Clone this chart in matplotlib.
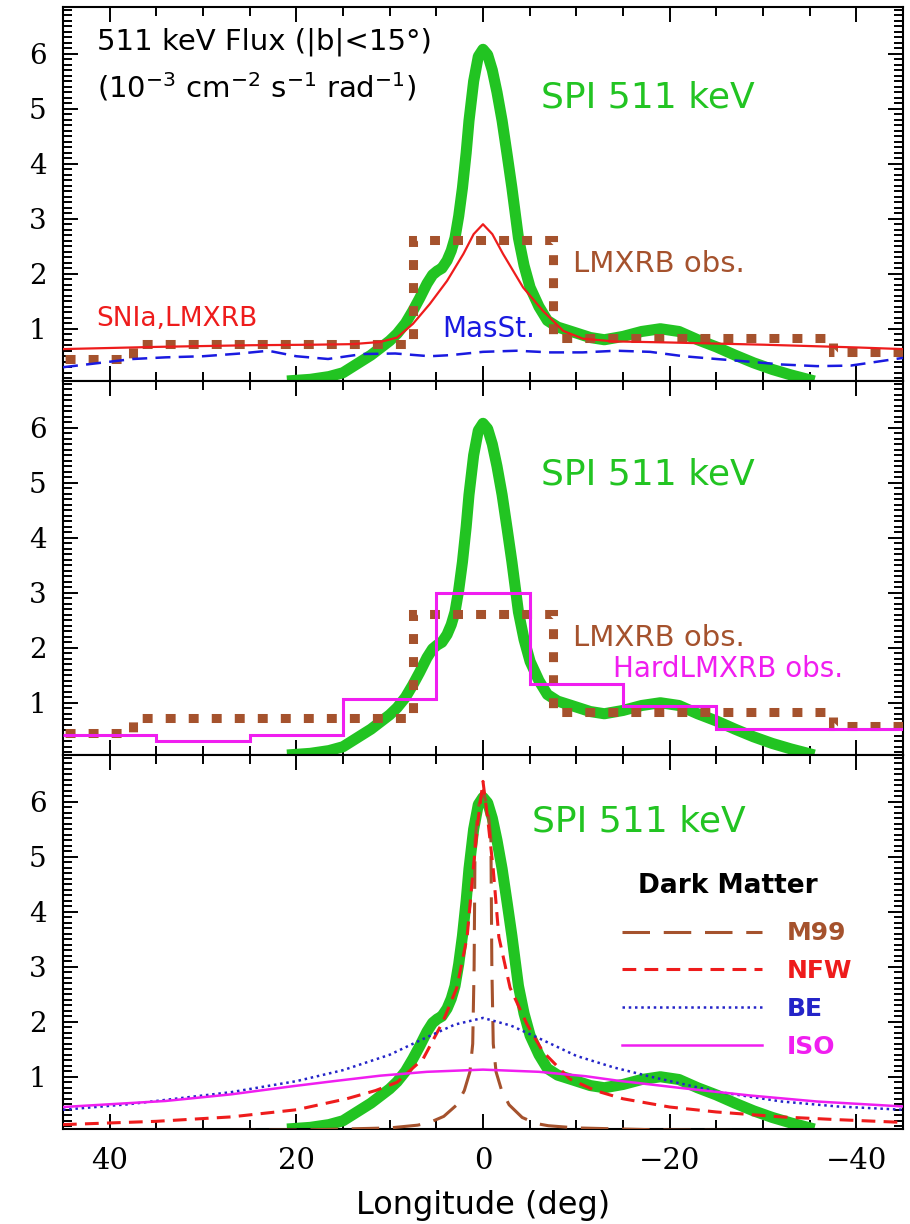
import numpy as np
import matplotlib
matplotlib.use("Agg")
import matplotlib.pyplot as plt
from matplotlib.ticker import MultipleLocator

# --- data ---
# SPI 511 keV profile, longitude (deg) vs flux
spi_lon = [21, 18.5, 16.5, 15, 13.5, 12, 11, 10, 9.2, 8.3, 7.5, 6.8, 6, 5.4, 4.9, 4.4,
           3.85, 3.4, 3.0, 2.6, 2.2, 1.8, 1.5, 1.0, 0.5, 0, -0.5, -1.0, -1.5, -2.05,
           -2.6, -3.1, -3.8, -4.4, -5.05, -6, -6.9, -8, -9.3, -11.5, -13, -15, -17,
           -19, -21, -23, -25, -27, -29, -31, -33, -35.5]
spi_val = [0.05, 0.08, 0.13, 0.2, 0.36, 0.52, 0.65, 0.78, 0.91, 1.1, 1.33, 1.55, 1.82,
           1.98, 2.05, 2.1, 2.24, 2.42, 2.65, 3.05, 3.56, 4.2, 4.78, 5.5, 5.95, 6.08,
           5.98, 5.7, 5.3, 4.78, 4.15, 3.56, 2.65, 2.15, 1.75, 1.4, 1.15, 1.03, 0.96,
           0.84, 0.8, 0.86, 0.95, 1.0, 0.95, 0.8, 0.67, 0.52, 0.38, 0.26, 0.16, 0.05]

# SNIa, LMXRB model (panel 1)
snia_lon = [45, 35, 25, 18, 14, 11, 9.2, 7.5, 5.7, 3.85, 2.1, 1, 0, -1, -2.15, -4.3,
            -6.4, -8.6, -10.7, -14, -20, -30, -40, -45]
snia_val = [0.63, 0.67, 0.7, 0.71, 0.72, 0.76, 0.84, 1.09, 1.45, 1.87, 2.36, 2.72, 2.9,
            2.72, 2.36, 1.75, 1.33, 0.96, 0.82, 0.77, 0.75, 0.71, 0.66, 0.63]

# massive stars (panel 1)
mass_lon = [45, 41, 37.5, 34, 30, 26, 23, 20, 16.6, 12.9, 9.4, 5.7, 3.5, 0, -3.6, -7.2,
            -10.7, -14.3, -17.9, -21.5, -25, -28.6, -32, -35.8, -39.4, -43, -45]
mass_val = [0.3, 0.38, 0.45, 0.48, 0.5, 0.55, 0.6, 0.5, 0.45, 0.54, 0.55, 0.5, 0.52,
            0.58, 0.6, 0.57, 0.57, 0.6, 0.58, 0.5, 0.45, 0.4, 0.35, 0.32, 0.33, 0.42, 0.47]

# LMXRB observed (binned), ascending edges
lmxrb_edges = [-45, -37.5, -7.5, 7.5, 37.5, 45]
lmxrb_val = [0.57, 0.83, 2.62, 0.72, 0.45]

# hard LMXRB observed (binned), ascending edges
hard_edges = [-45, -25, -15, -5, 5, 15, 25, 35, 45]
hard_val = [0.53, 0.94, 1.34, 3.0, 1.07, 0.42, 0.3, 0.42]

# dark matter profiles (panel 3)
m99_lon = [45, 30, 20, 15, 10, 7, 5.7, 4.2, 2.8, 2.0, 1.4, 1.1, 0.95, 0.85, 0.5, 0,
           -0.5, -0.85, -0.95, -1.1, -1.4, -2.0, -2.8, -4.2, -5.7, -7, -10, -15, -20, -30, -45]
m99_val = [0.01, 0.02, 0.03, 0.05, 0.07, 0.12, 0.17, 0.28, 0.49, 0.75, 1.09, 1.6, 3.0,
           5.3, 5.9, 6.2, 5.9, 5.3, 3.0, 1.6, 1.09, 0.75, 0.49, 0.26, 0.15, 0.11, 0.07,
           0.05, 0.03, 0.02, 0.01]

nfw_lon = [45, 35, 27, 20, 14.6, 11.5, 9.2, 6.4, 4.3, 2.8, 1.7, 1.05, 0.5, 0, -0.5,
           -1.1, -1.7, -2.9, -4.7, -6.4, -9.3, -12, -15, -20, -25, -32, -38, -45]
nfw_val = [0.13, 0.19, 0.27, 0.4, 0.6, 0.75, 0.9, 1.33, 2.0, 2.62, 3.54, 4.77, 5.7,
           6.37, 5.7, 4.77, 3.54, 2.62, 1.96, 1.46, 0.96, 0.75, 0.6, 0.45, 0.36, 0.27,
           0.22, 0.17]

be_lon = [45, 38, 33, 27, 20, 15, 10, 6, 3, 0, -3, -6, -10, -14, -18, -25, -32, -38, -45]
be_val = [0.4, 0.5, 0.6, 0.72, 0.92, 1.12, 1.4, 1.72, 1.95, 2.07, 1.93, 1.7, 1.38,
          1.17, 1.0, 0.73, 0.55, 0.46, 0.4]

iso_lon = [45, 38, 34, 27, 20.3, 16, 11, 6, 0, -6, -11, -14.4, -21.5, -28.6, -35.8, -45]
iso_val = [0.45, 0.52, 0.56, 0.68, 0.83, 0.92, 1.02, 1.09, 1.13, 1.09, 1.01, 0.93,
           0.79, 0.66, 0.55, 0.46]

# --- colours ---
GREEN = '#22c422'
BROWN = '#a5522d'
RED = '#ee1c1c'
BLUE = '#1a1ae0'
MAGENTA = '#f01ef0'

plt.rcParams['font.family'] = 'DejaVu Sans'

fig = plt.figure(figsize=(9.1, 12.24), dpi=100)
gs = fig.add_gridspec(3, 1, left=0.0692, right=0.9923, top=0.9943, bottom=0.0776, hspace=0)
axes = [fig.add_subplot(gs[i]) for i in range(3)]

for ax in axes:
    ax.set_xlim(45, -45)
    ax.set_ylim(0.05, 6.85)
    ax.xaxis.set_major_locator(MultipleLocator(20))
    ax.xaxis.set_minor_locator(MultipleLocator(5))
    ax.yaxis.set_major_locator(MultipleLocator(1))
    ax.yaxis.set_minor_locator(MultipleLocator(0.1))
    ax.tick_params(which='both', direction='in', top=True, right=True, width=1.4)
    ax.tick_params(which='major', length=11)
    ax.tick_params(which='minor', length=6.5)
    ax.tick_params(axis='y', labelsize=20, pad=12)
    ax.tick_params(axis='x', labelsize=21, pad=13)
    for sp in ax.spines.values():
        sp.set_linewidth(1.5)
    ax.set_yticks([1, 2, 3, 4, 5, 6])
    # SPI curve in every panel
    ax.plot(spi_lon, spi_val, color=GREEN, lw=8, solid_capstyle='butt', zorder=2)

for ax in axes[:2]:
    ax.tick_params(axis='x', labelbottom=False)
for ax in axes:
    for lab in ax.get_xticklabels() + ax.get_yticklabels():
        lab.set_family('DejaVu Serif')

# ---- panel 1 ----
ax = axes[0]
ax.stairs(lmxrb_val, lmxrb_edges, baseline=None, color=BROWN, lw=6.5,
          linestyle=(0, (1.1, 1.45)), zorder=3)
ax.plot(snia_lon, snia_val, color=RED, lw=1.6, zorder=4)
ax.plot(mass_lon, mass_val, color=BLUE, lw=1.8, linestyle=(0, (6, 3.3)), zorder=4)
ax.text(0.040, 0.906, '511 keV Flux (|b|<15°)', transform=ax.transAxes,
        fontsize=21, va='center', ha='left')
ax.text(0.040, 0.786, r'(10$^{-3}$ cm$^{-2}$ s$^{-1}$ rad$^{-1}$)', transform=ax.transAxes,
        fontsize=21, va='center', ha='left')
ax.text(0.569, 0.758, 'SPI 511 keV', transform=ax.transAxes, fontsize=26,
        color=GREEN, va='center', ha='left')
ax.text(0.607, 0.314, 'LMXRB obs.', transform=ax.transAxes, fontsize=21,
        color=BROWN, va='center', ha='left')
ax.text(0.040, 0.166, 'SNIa,LMXRB', transform=ax.transAxes, fontsize=19,
        color=RED, va='center', ha='left')
ax.text(0.452, 0.139, 'MasSt.', transform=ax.transAxes, fontsize=20,
        color=BLUE, va='center', ha='left')

# ---- panel 2 ----
ax = axes[1]
ax.stairs(lmxrb_val, lmxrb_edges, baseline=None, color=BROWN, lw=6.5,
          linestyle=(0, (1.1, 1.45)), zorder=3)
ax.stairs(hard_val, hard_edges, baseline=None, color=MAGENTA, lw=2.2, zorder=4)
ax.text(0.569, 0.75, 'SPI 511 keV', transform=ax.transAxes, fontsize=26,
        color=GREEN, va='center', ha='left')
ax.text(0.607, 0.314, 'LMXRB obs.', transform=ax.transAxes, fontsize=21,
        color=BROWN, va='center', ha='left')
ax.text(0.655, 0.23, 'HardLMXRB obs.', transform=ax.transAxes, fontsize=20,
        color=MAGENTA, va='center', ha='left')

# ---- panel 3 ----
ax = axes[2]
l_m99, = ax.plot(m99_lon, m99_val, color=BROWN, lw=2.2, linestyle=(0, (9, 4.5)), zorder=3)
l_nfw, = ax.plot(nfw_lon, nfw_val, color=RED, lw=2.2, linestyle=(0, (4.5, 2.7)), zorder=4)
l_be, = ax.plot(be_lon, be_val, color='#2424c8', lw=1.8, linestyle=(0, (1, 1.5)), zorder=4)
l_iso, = ax.plot(iso_lon, iso_val, color=MAGENTA, lw=1.8, zorder=4)
ax.text(0.558, 0.822, 'SPI 511 keV', transform=ax.transAxes, fontsize=26,
        color=GREEN, va='center', ha='left')
ax.text(0.792, 0.649, 'Dark Matter', transform=ax.transAxes, fontsize=19,
        fontweight='bold', va='center', ha='center')
leg = ax.legend([l_m99, l_nfw, l_be, l_iso], ['M99', 'NFW', 'BE', 'ISO'],
                loc='upper left', bbox_to_anchor=(0.665, 0.555),
                frameon=False, borderpad=0, borderaxespad=0, handlelength=5.6,
                handletextpad=1.0, labelspacing=0.55, labelcolor='linecolor',
                prop={'weight': 'bold', 'size': 18})
ax.set_xlabel('Longitude (deg)', fontsize=23, labelpad=11)

fig.savefig('out.png', dpi=100)
